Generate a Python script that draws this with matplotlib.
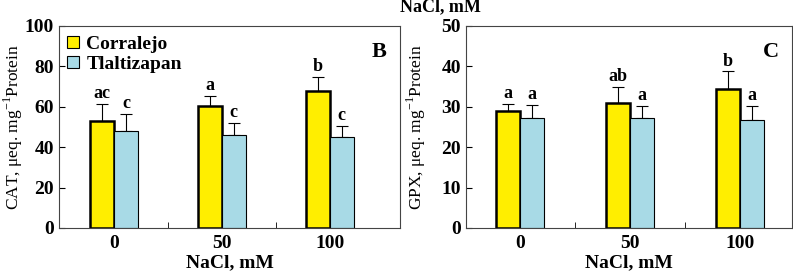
import numpy as np
import matplotlib.pyplot as plt
from matplotlib.patches import Patch

nacl = ["0", "50", "100"]
series = ["Corralejo", "Tlaltizapan"]

cat_mean = [53, 60.5, 68]
cat_err = [8.5, 5, 7]
cat_mean_t = [48, 46, 45]
cat_err_t = [8.5, 6, 5.5]
cat_letters = ["ac", "a", "b"]
cat_letters_t = ["c", "c", "c"]

gpx_mean = [29, 31, 34.5]
gpx_err = [1.8, 4, 4.3]
gpx_mean_t = [27.2, 27.2, 26.7]
gpx_err_t = [3.3, 3, 3.5]
gpx_letters = ["a", "ab", "b"]
gpx_letters_t = ["a", "a", "a"]

fn = "Liberation Serif"
plt.rcParams['font.family'] = fn
plt.rcParams['font.weight'] = 'bold'

yellow = "#FFEE00"
blue = "#A8DAE6"

fig = plt.figure(figsize=(7.93, 2.76), dpi=100)


def panel(ax, m1, e1, m2, e2, l1, l2, ymax, step, ylabel, tag, off):
    x = np.arange(len(nacl))
    w = 0.22
    ax.bar(x - w / 2, m1, w, color=yellow, edgecolor="black", lw=1.8, zorder=2)
    ax.bar(x + w / 2, m2, w, color=blue, edgecolor="black", lw=0.8, zorder=2)
    ax.errorbar(x - w / 2, m1, yerr=[np.zeros(3), e1], fmt="none", ecolor="black", elinewidth=0.8, capsize=4, capthick=0.8, zorder=1)
    ax.errorbar(x + w / 2, m2, yerr=[np.zeros(3), e2], fmt="none", ecolor="black", elinewidth=0.8, capsize=4, capthick=0.8, zorder=1)
    for i in range(3):
        ax.text(x[i] - w / 2, m1[i] + e1[i] + off, l1[i], ha="center", va="bottom", fontsize=13, fontweight="bold")
        ax.text(x[i] + w / 2, m2[i] + e2[i] + off, l2[i], ha="center", va="bottom", fontsize=13, fontweight="bold")
    ax.set_ylim(0, ymax)
    ax.set_yticks(np.arange(0, ymax + 1, step))
    ax.set_xticks(x)
    ax.set_xticklabels(nacl)
    ax.set_xticks([0.5, 1.5], minor=True)
    ax.tick_params(axis="x", which="major", length=0, labelsize=14, pad=5)
    ax.tick_params(axis="x", which="minor", length=4, direction="in")
    ax.tick_params(axis="y", labelsize=14, direction="in", length=4)
    for s in ax.spines.values():
        s.set_color("#444444")
        s.set_linewidth(0.8)
    ax.set_xlabel("NaCl, mM", fontsize=14, fontweight="bold", labelpad=2)
    ax.set_ylabel(ylabel, fontsize=12.5, fontweight="normal")
    ax.text(0.96, 0.87, tag, transform=ax.transAxes, ha="right", va="center", fontsize=16, fontweight="bold")


ax1 = fig.add_axes([59 / 793, 48 / 276, 341 / 793, 202 / 276])
panel(ax1, cat_mean, cat_err, cat_mean_t, cat_err_t, cat_letters, cat_letters_t, 100, 20,
      r"CAT, $\mathregular{\mu}$eq. mg$^{\mathregular{-1}}$Protein", "B", 0.8)
ax1.set_xlim(-0.51, 2.65)
ax1.yaxis.set_label_coords(-0.1, 0.5)
handles = [Patch(facecolor=yellow, edgecolor="black", lw=0.8),
           Patch(facecolor=blue, edgecolor="black", lw=0.8)]
ax1.legend(handles, series, loc="upper left", frameon=False, fontsize=14, handlelength=0.6, handleheight=0.6,
           handletextpad=0.4, borderaxespad=0.1, labelspacing=0.15, bbox_to_anchor=(-0.005, 1.0))

ax2 = fig.add_axes([466 / 793, 48 / 276, 326 / 793, 202 / 276])
panel(ax2, gpx_mean, gpx_err, gpx_mean_t, gpx_err_t, gpx_letters, gpx_letters_t, 50, 10,
      r"GPX, $\mathregular{\mu}$eq. mg$^{\mathregular{-1}}$Protein", "C", 0.4)
ax2.set_xlim(-0.49, 2.47)
ax2.yaxis.set_label_coords(-0.117, 0.5)

fig.text(440 / 793, 1 - 7 / 276, "NaCl, mM", ha="center", va="center", fontsize=13, fontweight="bold")

fig.savefig("out.png", dpi=100)
